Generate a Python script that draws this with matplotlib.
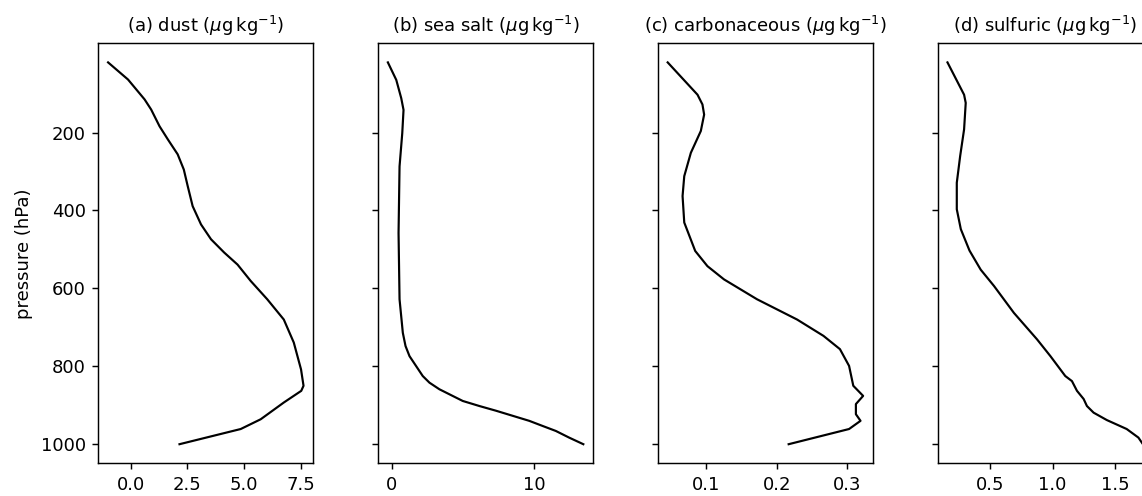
import matplotlib
matplotlib.use("Agg")
import matplotlib.pyplot as plt

# pressure levels (hPa) and mixing ratios
p_dust = [20, 64, 115, 141, 184, 218, 256, 295, 337, 389, 436, 474, 508, 539,
          581, 628, 680, 739, 808, 850, 863, 893, 936, 961, 1000]
dust = [-1.00, -0.12, 0.61, 0.90, 1.27, 1.64, 2.07, 2.34, 2.51, 2.73, 3.10, 3.54,
        4.12, 4.71, 5.29, 6.02, 6.75, 7.19, 7.51, 7.62, 7.52, 6.75, 5.73, 4.85, 2.15]

p_salt = [20, 65, 112, 142, 202, 287, 458, 628, 714, 748, 774, 825, 842, 859,
          872, 889, 902, 914, 927, 940, 953, 966, 983, 1000]
salt = [-0.28, 0.31, 0.66, 0.82, 0.73, 0.54, 0.47, 0.54, 0.77, 0.96, 1.24, 2.17,
        2.64, 3.34, 4.05, 4.98, 6.15, 7.31, 8.48, 9.65, 10.58, 11.52, 12.45, 13.45]

p_carb = [20, 103, 128, 154, 196, 252, 312, 363, 431, 504, 543, 577, 628, 680,
          722, 756, 799, 850, 876, 897, 923, 940, 961, 1000]
carb = [0.0448, 0.0873, 0.0943, 0.0967, 0.0920, 0.0778, 0.0684, 0.0660, 0.0684,
        0.0840, 0.1014, 0.125, 0.172, 0.229, 0.2666, 0.290, 0.303, 0.309, 0.323,
        0.3127, 0.3127, 0.3193, 0.303, 0.217]

p_sulf = [20, 103, 124, 192, 260, 329, 397, 448, 503, 552, 594, 663, 731, 774,
          825, 838, 863, 884, 902, 919, 938, 961, 983, 1000]
sulf = [0.165, 0.297, 0.310, 0.297, 0.266, 0.239, 0.239, 0.271, 0.340, 0.429,
        0.535, 0.693, 0.877, 0.983, 1.101, 1.154, 1.194, 1.247, 1.273, 1.326,
        1.431, 1.589, 1.682, 1.718]

titles = ["(a) dust", "(b) sea salt", "(c) carbonaceous", "(d) sulfuric"]
unit = r"($\mu\mathrm{g\,kg^{-1}}$)"
yticks = [200, 400, 600, 800, 1000]
dust_xticks = [0.0, 2.5, 5.0, 7.5]

W, H, dpi = 1142, 496, 130
fig = plt.figure(figsize=(W / dpi, H / dpi), dpi=dpi)

profiles = [(dust, p_dust), (salt, p_salt), (carb, p_carb), (sulf, p_sulf)]
ax0 = None
for i, (x, p) in enumerate(profiles):
    left = 98.3 + 279.8 * i
    rect = [left / W, (H - 463.3) / H, 215 / W, 420 / H]
    if ax0 is None:
        ax = fig.add_axes(rect)
        ax0 = ax
    else:
        ax = fig.add_axes(rect, sharey=ax0)
        plt.setp(ax.get_yticklabels(), visible=False)
    ax.plot(x, p, color="black", lw=1.2)
    ax.set_title(titles[i] + " " + unit, fontsize=10)
    ax.set_yticks(yticks)

ax0.set_xticks(dust_xticks)
ax0.invert_yaxis()
ax0.set_ylabel("pressure (hPa)")

fig.savefig("out.png", dpi=dpi)
